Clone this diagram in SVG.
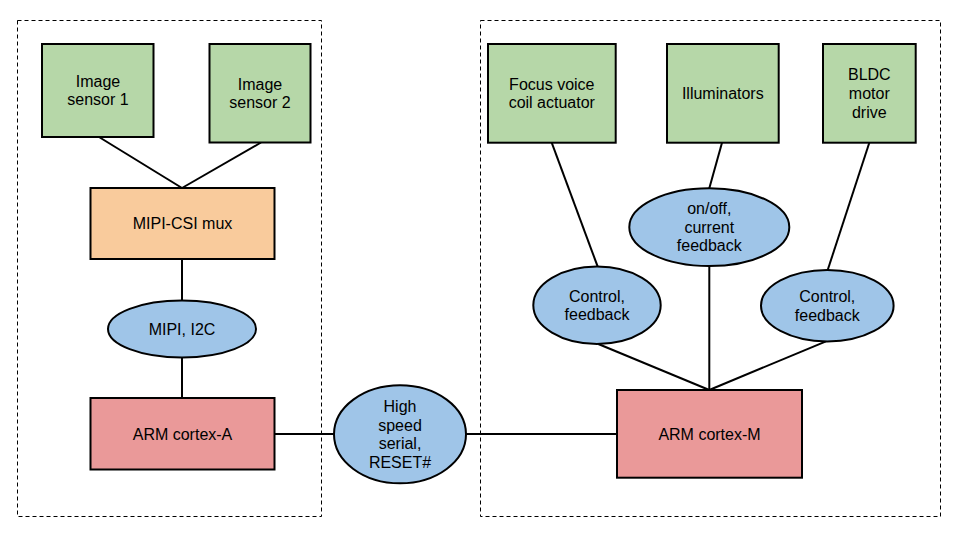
<svg xmlns="http://www.w3.org/2000/svg" width="960" height="540" viewBox="0 0 960 540">
<style>
.grp{fill:none;stroke:#000;stroke-width:1;stroke-dasharray:4,3}
.g{fill:#b6d7a8;stroke:#000;stroke-width:2}
.o{fill:#f9cb9c;stroke:#000;stroke-width:2}
.r{fill:#ea9999;stroke:#000;stroke-width:2}
.b{fill:#9fc5e8;stroke:#000;stroke-width:2}
.c line{stroke:#000;stroke-width:2}
text{font-family:"Liberation Sans",Arial,sans-serif;font-size:16px;fill:#000;text-anchor:middle}
</style>
<rect fill="#fff" width="960" height="540"/>
<rect class="grp" x="17.5" y="20.5" width="304" height="496"/>
<rect class="grp" x="480.5" y="20.5" width="460" height="496"/>
<g class="c" id="connectors">
<line x1="99" y1="137" x2="182" y2="188"/>
<line x1="261" y1="142.5" x2="182" y2="188"/>
<line x1="182" y1="259" x2="182" y2="300.5"/>
<line x1="182" y1="357.5" x2="182" y2="398"/>
<line x1="274.5" y1="434" x2="334" y2="434"/>
<line x1="466" y1="434" x2="617" y2="434"/>
<line x1="551.7" y1="142.7" x2="597.7" y2="266.7"/>
<line x1="722" y1="142.7" x2="709.3" y2="188.3"/>
<line x1="869.3" y1="142.7" x2="827.7" y2="270"/>
<line x1="709.3" y1="266" x2="709.3" y2="390"/>
<line x1="598.3" y1="344" x2="709.3" y2="390"/>
<line x1="826" y1="341.3" x2="709.3" y2="390"/>
</g>
<g id="sensor1"><rect class="g" x="42" y="44" width="111.5" height="93"/><text x="98" y="86.7">Image</text><text x="98" y="105.4">sensor 1</text></g>
<g id="sensor2"><rect class="g" x="209.5" y="44" width="101" height="98.5"/><text x="260" y="89.5">Image</text><text x="260" y="108.2">sensor 2</text></g>
<g id="mux"><rect class="o" x="90.5" y="188" width="184" height="71"/><text x="182.5" y="229">MIPI-CSI mux</text></g>
<g id="mipi"><ellipse class="b" cx="182" cy="329" rx="74" ry="28.5"/><text x="182" y="334.5">MIPI, I2C</text></g>
<g id="cortexA"><rect class="r" x="90.5" y="398" width="184" height="71.5"/><text x="182.5" y="439.5">ARM cortex-A</text></g>
<g id="hss"><ellipse class="b" cx="400" cy="434.3" rx="66" ry="49"/><text x="400" y="411.8">High</text><text x="400" y="430.5">speed</text><text x="400" y="449.2">serial,</text><text x="400" y="467.9">RESET#</text></g>
<g id="focus"><rect class="g" x="488" y="44" width="127.7" height="98.7"/><text x="551.8" y="89.5">Focus voice</text><text x="551.8" y="108.2">coil actuator</text></g>
<g id="illum"><rect class="g" x="667" y="44" width="111.7" height="98.7"/><text x="722.8" y="98.8">Illuminators</text></g>
<g id="bldc"><rect class="g" x="823" y="44" width="92.7" height="98.7"/><text x="869.3" y="80.1">BLDC</text><text x="869.3" y="98.8">motor</text><text x="869.3" y="117.5">drive</text></g>
<g id="onoff"><ellipse class="b" cx="709.3" cy="227.2" rx="80" ry="38.9"/><text x="709.3" y="213.9">on/off,</text><text x="709.3" y="232.6">current</text><text x="709.3" y="251.3">feedback</text></g>
<g id="ctrl1"><ellipse class="b" cx="597" cy="305.3" rx="63.7" ry="38.7"/><text x="597" y="301.5">Control,</text><text x="597" y="320.2">feedback</text></g>
<g id="ctrl2"><ellipse class="b" cx="827.3" cy="305.7" rx="66.3" ry="35.7"/><text x="827.3" y="301.9">Control,</text><text x="827.3" y="320.6">feedback</text></g>
<g id="cortexM"><rect class="r" x="617" y="390" width="185" height="87.7"/><text x="709.5" y="439.5">ARM cortex-M</text></g>
</svg>
